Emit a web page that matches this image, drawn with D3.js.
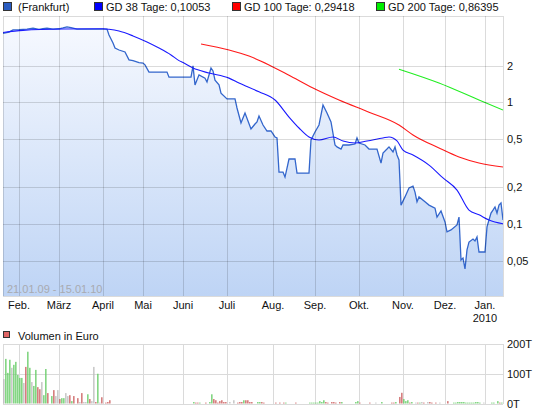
<!DOCTYPE html>
<html>
<head>
<meta charset="utf-8">
<script src="https://cdn.jsdelivr.net/npm/d3@7/dist/d3.min.js"></script>
<style>
  body { margin: 0; background: #fff; }
  svg { display: block; font-family: "Liberation Sans", Arial, sans-serif; font-size: 11px; }
</style>
</head>
<body>
<div id="svg-chart"></div>
<script>
// x axis runs on trading-day index (0 = 21.01.09, 250 = 15.01.10)
var monthIdx = [8, 28, 50, 70, 90, 112, 135, 156, 178, 200, 221, 241];
var monthLabels = ["Feb.", "März", "April", "Mai", "Juni", "Juli", "Aug.", "Sep.", "Okt.", "Nov.", "Dez.", "Jan."];
var yTicks = [2, 1, 0.5, 0.2, 0.1, 0.05];
var volTicks = [200, 100, 0];

// price (Frankfurt)
var priceIdx = [0, 3, 5, 8, 10, 12, 15, 18, 20, 22, 25, 28, 30, 32, 34, 37, 40, 42, 45, 48, 52, 53, 55, 56, 58,
  61, 63, 65, 68, 70, 71, 73, 82, 83, 94, 95, 96, 98, 101, 102, 104, 105, 106, 108, 109, 112, 116, 117, 119,
  121, 124, 126, 127, 128, 130, 132, 134, 136, 137, 138, 140, 141, 142, 143, 146, 147, 153, 154, 156, 158,
  160, 162, 164, 166, 167, 169, 170, 173, 176, 177, 178, 181, 183, 187, 189, 190, 192, 193, 195, 196, 197,
  198, 199, 201, 203, 205, 206, 207, 208, 211, 213, 216, 217, 219, 221, 222, 224, 227, 228, 229, 230, 231,
  232, 233, 235, 236, 237, 238, 241, 242, 244, 245, 246, 247, 248, 249, 250];
var priceVal = [3.69, 3.78, 3.93, 3.95, 3.98, 4.00, 4.06, 3.97, 4.02, 4.06, 4.00, 4.02, 4.08, 4.16, 4.10, 4.00,
  3.99, 4.00, 4.00, 4.00, 4.00, 3.57, 3.07, 2.79, 2.69, 2.59, 2.23, 2.20, 2.12, 2.10, 2.03, 1.77, 1.77, 1.61,
  1.61, 1.99, 1.39, 1.68, 1.58, 1.47, 1.91, 1.81, 1.52, 1.39, 1.19, 1.065, 1.065, 0.898, 0.676, 0.817, 0.604,
  0.663, 0.689, 0.772, 0.651, 0.581, 0.581, 0.519, 0.509, 0.267, 0.267, 0.243, 0.288, 0.342, 0.342, 0.262,
  0.262, 0.490, 0.570, 0.651, 0.95, 0.817, 0.689, 0.446, 0.430, 0.413, 0.446, 0.446, 0.454, 0.509, 0.463,
  0.446, 0.413, 0.413, 0.317, 0.383, 0.413, 0.430, 0.391, 0.430, 0.369, 0.336, 0.143, 0.167, 0.198, 0.205,
  0.183, 0.152, 0.167, 0.152, 0.143, 0.135, 0.114, 0.128, 0.104, 0.0861, 0.0894, 0.0983, 0.114, 0.0507,
  0.0526, 0.0427, 0.0612, 0.0711, 0.0753, 0.0725, 0.0782, 0.0589, 0.0589, 0.0946, 0.123, 0.130, 0.138,
  0.123, 0.143, 0.149, 0.108];

// moving averages
var gd38Idx = [0, 10, 30, 50, 53, 58, 65, 72, 78, 84, 88, 90, 95, 103, 113, 118, 128, 136, 143, 148, 153, 158,
  165, 170, 176, 182, 190, 193, 197, 200, 205, 213, 220, 227, 233, 238, 243, 250];
var gd38Val = [3.75, 3.9, 4.0, 4.02, 3.98, 3.85, 3.51, 3.13, 2.79, 2.45, 2.20, 2.12, 1.91, 1.74, 1.58, 1.44, 1.22,
  1.044, 0.757, 0.615, 0.519, 0.490, 0.519, 0.481, 0.463, 0.481, 0.509, 0.519, 0.481, 0.405, 0.369, 0.305,
  0.239, 0.190, 0.130, 0.119, 0.108, 0.10053];
var gd100Idx = [99, 113, 123, 133, 143, 155, 168, 183, 198, 205, 218, 228, 238, 250];
var gd100Val = [3.01, 2.69, 2.40, 2.03, 1.67, 1.31, 1.044, 0.83, 0.651, 0.539, 0.421, 0.355, 0.317, 0.29418];
var gd200Idx = [198, 218, 238, 250];
var gd200Val = [1.87, 1.44, 1.044, 0.86395];

// volume in thousand euro, u = up, d = down, n = unchanged
var volIdx = [
  0, 1, 2, 3, 4, 5, 6, 7, 8, 9,
  10, 11, 12, 13, 14, 15, 16, 17, 18, 19,
  20, 21, 22, 24, 25, 26, 27, 28, 29,
  30, 31, 32, 33, 34, 35, 37, 38, 39,
  40, 41, 42, 43, 44, 45, 46, 47, 48, 49,
  51, 52, 53,
  95, 96, 97, 98, 101, 103, 104, 105, 106, 107,
  108, 109, 110, 111, 113, 115, 117, 118, 119, 120,
  121, 122, 123,
  124, 127, 128, 129, 130, 136, 138, 140, 141, 146,
  153, 154, 155, 156, 157, 158, 159, 160, 161, 162,
  164, 165, 166, 168, 169, 176, 177, 178, 183, 186,
  189, 194, 195, 196, 198, 199, 200, 201, 202, 203,
  204, 206, 207, 208, 209, 210, 212, 213, 214, 216,
  218, 222, 225, 226, 227, 228, 229, 230, 231, 232,
  233, 234, 235, 236, 237, 238, 240, 244, 245, 247,
  248, 249];
var volVal = [
  82, 150, 103, 147, 120, 130, 140, 96, 86, 86,
  69, 123, 174, 120, 72, 59, 113, 55, 48, 72,
  28, 116, 35, 25, 45, 25, 45, 15, 18,
  18, 35, 25, 28, 8, 25, 18, 5, 35,
  5, 5, 31, 15, 8, 123, 5, 100, 3, 21,
  3, 5, 11,
  5, 3, 3, 3, 3, 5, 31, 15, 11, 3,
  8, 11, 5, 5, 5, 11, 3, 5, 5, 11,
  11, 11, 5,
  5, 5, 5, 5, 3, 3, 3, 3, 3, 3,
  3, 3, 3, 3, 3, 8, 5, 11, 5, 3,
  5, 5, 3, 5, 5, 5, 8, 3, 3, 3,
  5, 3, 3, 5, 22, 36, 15, 8, 11, 3,
  5, 3, 3, 3, 5, 3, 5, 5, 3, 3,
  3, 8, 3, 3, 5, 5, 5, 5, 3, 3,
  3, 3, 3, 5, 5, 3, 3, 3, 3, 8,
  3, 3];
var volDir = [
  "nuuunuuuuu",
  "nduunuuddn",
  "uududnndu",
  "unnduddnd",
  "nnudnndund",
  "ddd",
  "udduduuddd",
  "ddddnndddu",
  "ddd",
  "duudddddud",
  "uuuuuuuudd",
  "dddduuuddn",
  "uddudduuud",
  "undundnddd",
  "nduuuuuuuu",
  "uuuuuunuuu",
  "du"].join("");

var legendNames = ["(Frankfurt)", "GD 38 Tage: 0,10053", "GD 100 Tage: 0,29418", "GD 200 Tage: 0,86395"];
var legendColors = ["#2a5cc0", "#0000ff", "#ff0000", "#00ee00"];

var svgWidth = 545;
var svgHeight = 413;
var plot = { left: 3, right: 503, top: 15.5, bottom: 296 };
var volBox = { top: 344, bottom: 403.5 };

var svg = d3.select("#svg-chart")
  .append("svg")
  .attr("width", svgWidth)
  .attr("height", svgHeight);

var xScale = d3.scaleLinear().domain([0, 250]).range([plot.left, plot.right]);
var yScale = d3.scaleLog().domain([0.02561, 5.167]).range([plot.bottom, plot.top]);
var vScale = d3.scaleLinear().domain([0, 200]).range([volBox.bottom, volBox.top]);

var gridColor = "rgba(0,0,0,0.14)";

// gradient for area under price
var defs = svg.append("defs");
var grad = defs.append("linearGradient")
  .attr("id", "areaGrad")
  .attr("gradientUnits", "userSpaceOnUse")
  .attr("x1", 0).attr("y1", plot.top)
  .attr("x2", 0).attr("y2", plot.bottom);
grad.append("stop").attr("offset", "0%").attr("stop-color", "#f8faff");
grad.append("stop").attr("offset", "100%").attr("stop-color", "#bed4f5");

defs.append("clipPath").attr("id", "plotClip")
  .append("rect")
  .attr("x", plot.left).attr("y", plot.top)
  .attr("width", plot.right - plot.left).attr("height", plot.bottom - plot.top);

var priceData = priceIdx.map(function(d, i) { return { i: d, v: priceVal[i] }; });

var area = d3.area()
  .x(function(d) { return xScale(d.i); })
  .y0(plot.bottom)
  .y1(function(d) { return yScale(d.v); });

var line = d3.line()
  .x(function(d) { return xScale(d.i); })
  .y(function(d) { return yScale(d.v); });

var smooth = d3.line()
  .curve(d3.curveMonotoneX)
  .x(function(d) { return xScale(d.i); })
  .y(function(d) { return yScale(d.v); });

var chartGroup = svg.append("g").attr("clip-path", "url(#plotClip)");

chartGroup.append("path")
  .datum(priceData)
  .attr("d", area)
  .attr("fill", "url(#areaGrad)");

// grid
var gridGroup = svg.append("g").attr("shape-rendering", "crispEdges");
gridGroup.selectAll("line.v")
  .data(monthIdx)
  .enter()
  .append("line")
  .attr("x1", function(d) { return Math.round(xScale(d)) + 0.5; })
  .attr("x2", function(d) { return Math.round(xScale(d)) + 0.5; })
  .attr("y1", plot.top)
  .attr("y2", plot.bottom)
  .attr("stroke", gridColor);
gridGroup.selectAll("line.h")
  .data(yTicks)
  .enter()
  .append("line")
  .attr("x1", plot.left)
  .attr("x2", plot.right)
  .attr("y1", function(d) { return Math.round(yScale(d)) + 0.5; })
  .attr("y2", function(d) { return Math.round(yScale(d)) + 0.5; })
  .attr("stroke", gridColor);
gridGroup.append("rect")
  .attr("x", plot.left + 0.5).attr("y", Math.round(plot.top) + 0.5)
  .attr("width", plot.right - plot.left).attr("height", plot.bottom - Math.round(plot.top))
  .attr("fill", "none")
  .attr("stroke", gridColor);

function toPoints(idx, val) {
  return idx.map(function(d, i) { return { i: d, v: val[i] }; });
}

chartGroup.append("path")
  .datum(toPoints(gd200Idx, gd200Val))
  .attr("d", smooth)
  .attr("fill", "none")
  .attr("stroke", "#22ee22")
  .attr("stroke-width", 1.1);

chartGroup.append("path")
  .datum(toPoints(gd100Idx, gd100Val))
  .attr("d", smooth)
  .attr("fill", "none")
  .attr("stroke", "#ff1a1a")
  .attr("stroke-width", 1.1);

chartGroup.append("path")
  .datum(priceData)
  .attr("d", line)
  .attr("fill", "none")
  .attr("stroke", "#3366cc")
  .attr("stroke-width", 1.3);

chartGroup.append("path")
  .datum(toPoints(gd38Idx, gd38Val))
  .attr("d", smooth)
  .attr("fill", "none")
  .attr("stroke", "#1a1aff")
  .attr("stroke-width", 1.1);

// y axis labels (right)
svg.selectAll("text.ylab")
  .data(yTicks)
  .enter()
  .append("text")
  .attr("x", 507)
  .attr("y", function(d) { return yScale(d) + 4; })
  .attr("fill", "#111")
  .text(function(d) { return String(d).replace(".", ","); });

// x axis labels
svg.selectAll("text.xlab")
  .data(monthIdx)
  .enter()
  .append("text")
  .attr("x", function(d) { return xScale(d); })
  .attr("y", 309)
  .attr("text-anchor", "middle")
  .attr("fill", "#111")
  .text(function(d, i) { return monthLabels[i]; });

svg.append("text")
  .attr("x", xScale(monthIdx[monthIdx.length - 1]))
  .attr("y", 322)
  .attr("text-anchor", "middle")
  .attr("fill", "#111")
  .text("2010");

svg.append("text")
  .attr("x", 7)
  .attr("y", 293)
  .attr("fill", "#a8aab0")
  .text("21.01.09 - 15.01.10");

// legend
var legend = svg.selectAll("g.legend")
  .data(legendNames)
  .enter()
  .append("g")
  .attr("transform", function(d, i) { return "translate(" + [3, 94, 232, 376][i] + ",0)"; });
legend.append("rect")
  .attr("x", 0.5).attr("y", 2.5)
  .attr("width", 8).attr("height", 8)
  .attr("fill", function(d, i) { return legendColors[i]; })
  .attr("stroke", "#333");
legend.append("text")
  .attr("x", function(d, i) { return i == 0 ? 15 : 12; })
  .attr("y", 11)
  .attr("fill", "#111")
  .text(function(d) { return d; });

// volume panel
svg.append("rect")
  .attr("x", 3.5).attr("y", 331.5)
  .attr("width", 6).attr("height", 6)
  .attr("fill", "#e06666")
  .attr("stroke", "#333");
svg.append("text")
  .attr("x", 18).attr("y", 339.5)
  .attr("fill", "#111")
  .text("Volumen in Euro");

var volGrid = svg.append("g").attr("shape-rendering", "crispEdges");
volGrid.selectAll("line.v")
  .data(monthIdx)
  .enter()
  .append("line")
  .attr("x1", function(d) { return Math.round(xScale(d)) + 0.5; })
  .attr("x2", function(d) { return Math.round(xScale(d)) + 0.5; })
  .attr("y1", volBox.top)
  .attr("y2", volBox.bottom)
  .attr("stroke", "#dadada");
volGrid.selectAll("line.h")
  .data(volTicks)
  .enter()
  .append("line")
  .attr("x1", plot.left)
  .attr("x2", plot.right)
  .attr("y1", function(d) { return Math.round(vScale(d)) + 0.5; })
  .attr("y2", function(d) { return Math.round(vScale(d)) + 0.5; })
  .attr("stroke", "#dadada");
volGrid.append("line")
  .attr("x1", plot.left + 0.5).attr("x2", plot.left + 0.5)
  .attr("y1", volBox.top).attr("y2", volBox.bottom)
  .attr("stroke", "#dadada");
volGrid.append("line")
  .attr("x1", plot.right + 0.5).attr("x2", plot.right + 0.5)
  .attr("y1", volBox.top).attr("y2", volBox.bottom)
  .attr("stroke", "#dadada");

var volColor = { u: "#66cc66", d: "#cc6060", n: "#bdbdbd" };
svg.selectAll("rect.vol")
  .data(volIdx)
  .enter()
  .append("rect")
  .attr("x", function(d) { return xScale(d) + 0.2; })
  .attr("width", 1.3)
  .attr("y", function(d, i) { return vScale(volVal[i]); })
  .attr("height", function(d, i) { return vScale(0) - vScale(volVal[i]); })
  .attr("fill", function(d, i) { return volColor[volDir[i]]; });

svg.selectAll("text.vlab")
  .data(volTicks)
  .enter()
  .append("text")
  .attr("x", 507)
  .attr("y", function(d) { return vScale(d) + 4; })
  .attr("fill", "#111")
  .text(function(d) { return d + "T"; });
</script>
</body>
</html>
